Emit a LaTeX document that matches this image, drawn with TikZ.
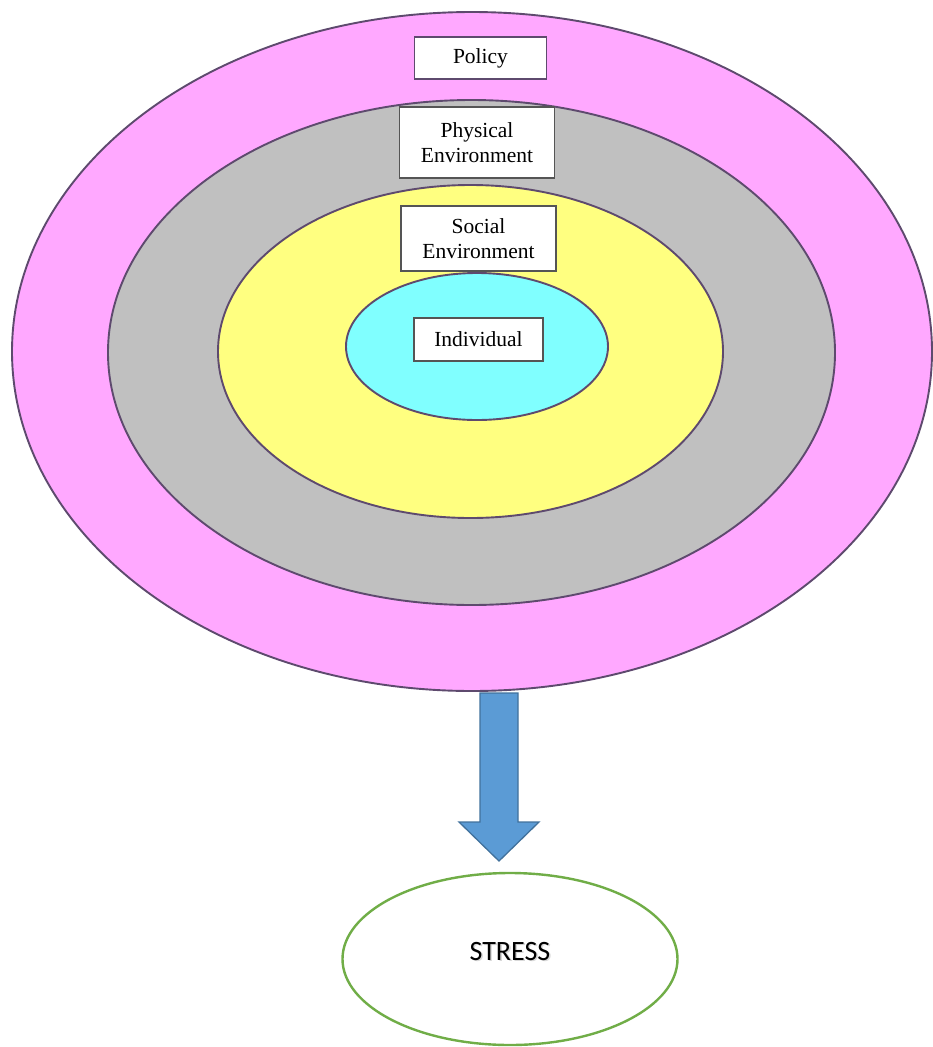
\documentclass[tikz,border=0pt]{standalone}
\usepackage{fontspec}
\setmainfont{Liberation Serif}
\newfontfamily\calibri{Carlito}
\usetikzlibrary{shapes.geometric}
\definecolor{pinkfill}{HTML}{FFA8FF}
\definecolor{grayfill}{HTML}{C0C0C0}
\definecolor{yellowfill}{HTML}{FFFF80}
\definecolor{cyanfill}{HTML}{80FFFF}
\definecolor{ringline}{HTML}{5E4A6E}
\definecolor{boxline}{HTML}{555555}
\definecolor{arrowfill}{HTML}{5B9BD5}
\definecolor{arrowline}{HTML}{41719C}
\definecolor{stressline}{HTML}{70AD47}
\begin{document}
\begin{tikzpicture}[x=1pt,y=-1pt,
  ring/.style={ellipse, draw=ringline, line width=1.9pt, inner sep=0pt},
  labelbox/.style={draw=boxline, fill=white, line width=1.8pt, inner sep=0pt, align=center,
     font=\fontsize{21.5}{25}\selectfont},
]
\useasboundingbox (0,0) rectangle (932,1047);
\node[ring, fill=pinkfill, minimum width=920, minimum height=679] (policyring) at (472,351.5) {};
\node[ring, fill=grayfill, minimum width=727, minimum height=505] (physring) at (471.5,352.5) {};
\node[ring, fill=yellowfill, minimum width=505, minimum height=333] (socring) at (470.5,351.5) {};
\node[ring, fill=cyanfill, minimum width=262, minimum height=147] (indring) at (477,346.5) {};
\node[labelbox, draw=ringline, minimum width=132, minimum height=42] (policy) at (480.5,58) {Policy};
\node[labelbox, minimum width=155, minimum height=71] (phys) at (477,142.5) {Physical\\Environment};
\node[labelbox, minimum width=155, minimum height=65] (soc) at (478.5,238.5) {Social\\Environment};
\node[labelbox, minimum width=129, minimum height=43] (ind) at (478.5,339.5) {Individual};
\node[ellipse, draw=stressline, line width=2.4pt, fill=white, minimum width=335, minimum height=172,
  inner sep=0pt] (stress) at (510,959) {};
\node[font=\calibri\fontsize{28}{32}\selectfont, text=black!15] at (511.5,952.5) {STRESS};
\node[font=\calibri\fontsize{28}{32}\selectfont] (stresstext) at (510,951) {STRESS};
\coordinate (atip) at (499,861);
\draw[fill=arrowfill, draw=arrowline, line width=1.3pt, line join=miter]
  (480,693) -- (518,693) -- (518,822) -- (539,822) -- (atip) -- (459,822) -- (480,822) -- cycle;
\end{tikzpicture}
\end{document}
